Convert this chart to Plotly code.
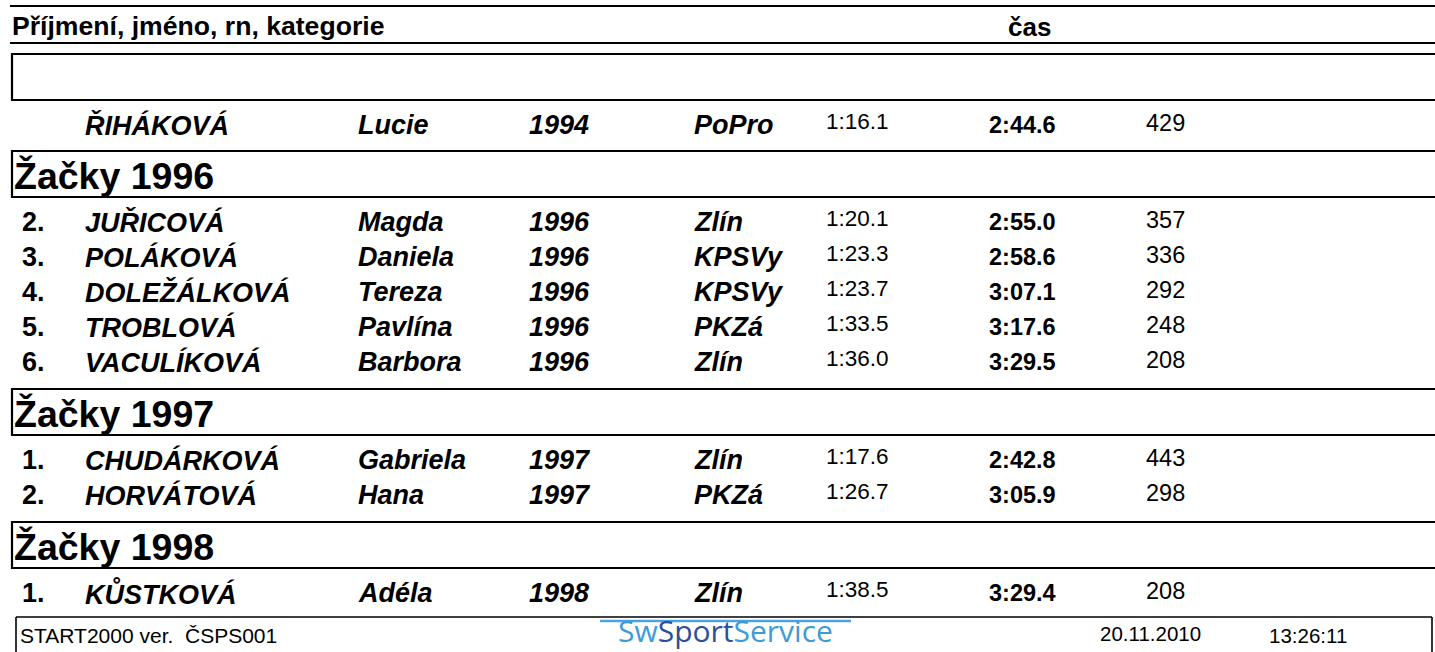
import plotly.graph_objects as go

# ---------------- data ----------------
header_cols = ["Příjmení, jméno, rn, kategorie", "čas"]

prev_row = ["", "ŘIHÁKOVÁ", "Lucie", "1994", "PoPro", "1:16.1", "2:44.6", "429"]

groups = ["Žačky 1996", "Žačky 1997", "Žačky 1998"]

ranks = [["2.", "3.", "4.", "5.", "6."], ["1.", "2."], ["1."]]
surnames = [["JUŘICOVÁ", "POLÁKOVÁ", "DOLEŽÁLKOVÁ", "TROBLOVÁ", "VACULÍKOVÁ"],
            ["CHUDÁRKOVÁ", "HORVÁTOVÁ"], ["KŮSTKOVÁ"]]
firstnames = [["Magda", "Daniela", "Tereza", "Pavlína", "Barbora"],
              ["Gabriela", "Hana"], ["Adéla"]]
years = [["1996", "1996", "1996", "1996", "1996"], ["1997", "1997"], ["1998"]]
clubs = [["Zlín", "KPSVy", "KPSVy", "PKZá", "Zlín"], ["Zlín", "PKZá"], ["Zlín"]]
splits = [["1:20.1", "1:23.3", "1:23.7", "1:33.5", "1:36.0"], ["1:17.6", "1:26.7"], ["1:38.5"]]
times = [["2:55.0", "2:58.6", "3:07.1", "3:17.6", "3:29.5"], ["2:42.8", "3:05.9"], ["3:29.4"]]
points = [["357", "336", "292", "248", "208"], ["443", "298"], ["208"]]

footer_left = "START2000 ver.  ČSPS001"
footer_date = "20.11.2010"
footer_time = "13:26:11"
logo_parts = ["Sw", "Sport", "Service"]

# ---------------- layout constants ----------------
W, H = 1435, 652
FONT = "Liberation Sans, Arial, sans-serif"
col_x = [20, 83, 356, 527, 692, 824, 987, 1144]  # rank, surname, first, year, club, split, time, pts
ROW_SIZE = 27

fig = go.Figure()
fig.add_trace(go.Scatter(x=[0, W], y=[0, H], mode="markers",
                         marker=dict(opacity=0), hoverinfo="skip", showlegend=False))

shapes = []
annots = []


def line(x0, y0, x1, y1, w=2.2, color="black"):
    shapes.append(dict(type="line", xref="x", yref="y", x0=x0, y0=y0, x1=x1, y1=y1,
                       line=dict(color=color, width=w)))


def text(x, y, s, size, xanchor="left", color="black"):
    annots.append(dict(x=x, y=y, xref="x", yref="y", text=s, showarrow=False,
                       xanchor=xanchor, yanchor="middle",
                       font=dict(family=FONT, size=size, color=color)))


def row(y, vals):
    r, sn, fn, yr, cl, sp, tm, pt = vals
    if r:
        text(col_x[0], y, f"<b>{r}</b>", ROW_SIZE)
    text(col_x[1], y, f"<b><i>{sn}</i></b>", ROW_SIZE)
    text(col_x[2], y, f"<b><i>{fn}</i></b>", ROW_SIZE)
    text(col_x[3], y, f"<b><i>{yr}</i></b>", ROW_SIZE)
    text(col_x[4], y, f"<b><i>{cl}</i></b>", ROW_SIZE)
    text(col_x[5], y - 4, sp, 22.5)
    text(col_x[6], y, f"<b>{tm}</b>", 23.5)
    text(col_x[7], y - 2, pt, 23.5)


# header
line(10, 6, W + 5, 6)
text(10, 26, f"<b>{header_cols[0]}</b>", 26.6)
text(1029, 27, f"<b>{header_cols[1]}</b>", 26, xanchor="center")
line(10, 43, W + 5, 43)

# empty box
line(12, 54, W + 5, 54)
line(12, 100, W + 5, 100)
line(12, 53, 12, 101)

# previous row
row(125, prev_row)

# groups
y = 151
BOX_H, FIRST, STEP, GAP = 46, 25, 35, 27
for gi, g in enumerate(groups):
    top, bot = y, y + BOX_H
    line(12, top, W + 5, top)
    line(12, bot, W + 5, bot)
    line(12, top - 1, 12, bot + 1)
    text(12, (top + bot) / 2 + 2, f"<b>{g}</b>", 37.5)
    ry = bot + FIRST
    for i in range(len(ranks[gi])):
        row(ry, [ranks[gi][i], surnames[gi][i], firstnames[gi][i], years[gi][i],
                 clubs[gi][i], splits[gi][i], times[gi][i], points[gi][i]])
        ry += STEP
    y = ry - STEP + GAP

# footer
FT = 617
line(16, FT, 1432, FT, w=1.6)
line(16, FT, 16, H + 5, w=1.6)
line(1432, FT, 1432, H + 5, w=1.6)
text(18, 635, footer_left, 21)
text(1098, 633, footer_date, 20.5)
text(1267, 635, footer_time, 20.5)

# logo
line(600, 621, 851, 621, w=2.5, color="#4aa3dd")
logo_colors = ["#3d9bd8", "#2b4f9c", "#3d9bd8"]
logo_html = "".join(f"<span style='color:{c}'>{p}</span>" for p, c in zip(logo_parts, logo_colors))
annots.append(dict(x=725, y=652, xref="x", yref="y", showarrow=False,
                   xanchor="center", yanchor="bottom", text=logo_html, borderpad=0,
                   font=dict(family="Open Sans, sans-serif", size=30)))

fig.update_layout(
    width=W, height=H, margin=dict(l=0, r=0, t=0, b=0),
    paper_bgcolor="white", plot_bgcolor="white",
    xaxis=dict(range=[0, W], visible=False, fixedrange=True),
    yaxis=dict(range=[H, 0], visible=False, fixedrange=True),
    shapes=shapes, annotations=annots, showlegend=False,
)

fig.write_html("out.html", config={"displayModeBar": False},
               post_script="document.body.style.margin='0';document.body.style.overflow='hidden';")
